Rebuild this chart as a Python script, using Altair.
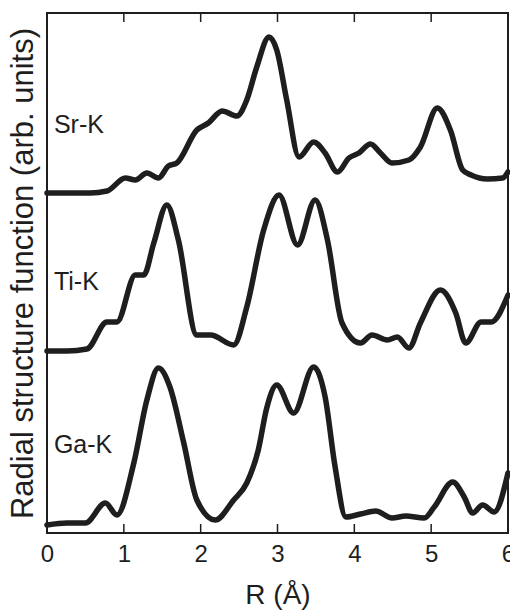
import altair as alt
import pandas as pd

# Fourier-transformed EXAFS radial structure functions, one per absorption edge.
ga_r = [0, 0.26, 0.50, 0.76, 0.91, 1.13, 1.30, 1.45, 1.60, 1.78, 1.95, 2.19, 2.43, 2.60,
        2.75, 2.86, 2.99, 3.21, 3.47, 3.62, 3.75, 3.89, 4.08, 4.28, 4.49, 4.67, 4.91,
        5.04, 5.28, 5.43, 5.54, 5.67, 5.82, 6.0]
ga_val = [0.08, 0.10, 0.10, 0.30, 0.18, 0.70, 1.33, 1.65, 1.46, 0.90, 0.33, 0.13, 0.33, 0.50,
          0.83, 1.25, 1.48, 1.20, 1.66, 1.36, 0.66, 0.16, 0.19, 0.22, 0.15, 0.17, 0.15,
          0.26, 0.51, 0.36, 0.20, 0.28, 0.21, 0.60]

ti_r = [0, 0.26, 0.52, 0.78, 0.91, 1.15, 1.26, 1.39, 1.56, 1.71, 1.95, 2.13, 2.43, 2.60,
        2.82, 3.02, 3.26, 3.49, 3.65, 3.84, 4.08, 4.23, 4.43, 4.56, 4.71, 4.86, 5.12,
        5.32, 5.45, 5.65, 5.78, 6.0]
ti_val = [0.12, 0.12, 0.14, 0.41, 0.41, 0.88, 0.88, 1.20, 1.58, 1.23, 0.28, 0.28, 0.18, 0.56,
          1.33, 1.68, 1.18, 1.63, 1.23, 0.40, 0.20, 0.28, 0.23, 0.26, 0.15, 0.40, 0.73,
          0.50, 0.20, 0.41, 0.41, 0.68]

sr_r = [0, 0.56, 0.78, 1.02, 1.15, 1.30, 1.45, 1.58, 1.69, 1.95, 2.10, 2.28, 2.47, 2.60,
        2.73, 2.89, 2.99, 3.12, 3.28, 3.47, 3.62, 3.78, 3.93, 4.06, 4.21, 4.34, 4.49,
        4.71, 4.86, 5.08, 5.25, 5.41, 5.52, 5.73, 5.93, 6.0]
sr_val = [0.10, 0.10, 0.12, 0.25, 0.23, 0.30, 0.25, 0.37, 0.40, 0.73, 0.80, 0.92, 0.87, 1.03,
          1.36, 1.66, 1.53, 1.03, 0.46, 0.61, 0.50, 0.31, 0.45, 0.50, 0.59, 0.50, 0.40,
          0.43, 0.56, 0.95, 0.73, 0.33, 0.28, 0.24, 0.25, 0.31]

edges = ["Ga-K", "Ti-K", "Sr-K"]
offsets = [0.0, 1.7, 3.3]          # vertical shift of each stacked curve
label_y = [0.80, 2.43, 4.00]       # where each edge name sits
x_ticks = [1, 2, 3, 4, 5]

series = {"Ga-K": (ga_r, ga_val), "Ti-K": (ti_r, ti_val), "Sr-K": (sr_r, sr_val)}

rows = []
for name, off in zip(edges, offsets):
    rs, vs = series[name]
    for r, v in zip(rs, vs):
        rows.append({"edge": name, "R": r, "y": v + off})
df = pd.DataFrame(rows)

labels = pd.DataFrame({"edge": edges, "R": [0.09] * 3, "y": label_y})

Y_MAX = 5.2
TICK = 0.09
ticks = pd.DataFrame({"t": x_ticks, "b0": 0.0, "b1": TICK, "t0": Y_MAX, "t1": Y_MAX - TICK})

FONT = "Liberation Sans"
INK = "#1e1e1e"

xscale = alt.Scale(domain=[0, 6], nice=False, zero=False)
yscale = alt.Scale(domain=[0, Y_MAX], nice=False, zero=False)

# One shared axis definition per channel, reused by every layer.
x_axis = alt.Axis(
    title="R (Å)", values=[0, 1, 2, 3, 4, 5, 6], format="d", ticks=False,
    labelFlush=False, labelOverlap=False,
    labelPadding=9, labelFontSize=24, titleFontSize=28, titlePadding=15,
    domain=False, grid=False, labelFont=FONT, titleFont=FONT,
    titleFontWeight="normal", labelColor=INK, titleColor=INK)
y_axis = alt.Axis(
    title="Radial structure function (arb. units)", labels=False, ticks=False,
    domain=False, grid=False, titleFontSize=31, titlePadding=8, titleFont=FONT,
    titleFontWeight="normal", titleColor=INK)

curves = alt.Chart(df).mark_line(
    interpolate="monotone", strokeWidth=5.5, color=INK, strokeJoin="round", strokeCap="round"
).encode(
    x=alt.X("R:Q", scale=xscale, axis=x_axis),
    y=alt.Y("y:Q", scale=yscale, axis=y_axis),
    detail="edge:N",
)

names = alt.Chart(labels).mark_text(
    align="left", baseline="alphabetic", fontSize=25, font=FONT, color=INK
).encode(
    x=alt.X("R:Q", scale=xscale, axis=x_axis),
    y=alt.Y("y:Q", scale=yscale, axis=y_axis),
    text="edge:N",
)

bottom_ticks = alt.Chart(ticks).mark_rule(color=INK, strokeWidth=1.5).encode(
    x=alt.X("t:Q", scale=xscale, axis=x_axis),
    y=alt.Y("b0:Q", scale=yscale, axis=y_axis),
    y2="b1:Q",
)
top_ticks = alt.Chart(ticks).mark_rule(color=INK, strokeWidth=1.5).encode(
    x=alt.X("t:Q", scale=xscale, axis=x_axis),
    y=alt.Y("t0:Q", scale=yscale, axis=y_axis),
    y2="t1:Q",
)

chart = alt.layer(curves, names, bottom_ticks, top_ticks).properties(
    width=461, height=520,
    autosize=alt.AutoSizeParams(type="none"),
    padding={"left": 47, "top": 13, "right": 2, "bottom": 77},
    background="white",
).configure_view(stroke=INK, strokeWidth=2)

chart.save("out.html", embed_options={"renderer": "svg", "actions": False})
